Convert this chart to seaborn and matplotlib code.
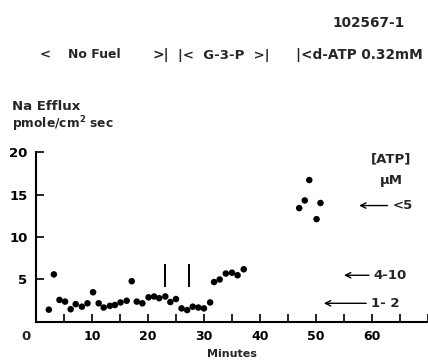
import numpy as np
import pandas as pd
import matplotlib
matplotlib.use("Agg")
import matplotlib.pyplot as plt
import seaborn as sns

# Na efflux vs time
minutes = [2.3, 3.2, 4.2, 5.2, 6.2, 7.1, 8.2, 9.2, 10.2, 11.2, 12.1, 13.2, 14.1,
           15.1, 16.2, 17.1, 18.0, 19.0, 20.1, 21.1, 22.0, 23.1, 24.0, 25.0,
           26.0, 27.0, 28.0, 29.0, 30.0, 31.1, 31.8, 32.8, 33.9, 35.0, 36.0,
           37.1, 47.0, 48.0, 48.8, 50.1, 50.8]
efflux = [1.45, 5.6, 2.6, 2.4, 1.5, 2.1, 1.8, 2.2, 3.5, 2.2, 1.7, 1.9, 2.0,
          2.3, 2.5, 4.8, 2.4, 2.2, 2.9, 3.0, 2.8, 3.0, 2.35, 2.7,
          1.6, 1.4, 1.8, 1.7, 1.6, 2.3, 4.7, 5.0, 5.7, 5.8, 5.5,
          6.2, 13.4, 14.3, 16.7, 12.1, 14.0]

# solution change marks
change_min = [23.1, 27.3]

# ATP levels marked by arrows on the right
atp_labels = ["<5", "4-10", "1- 2"]
atp_levels = [13.7, 5.5, 2.2]

x_ticks = [5, 10, 15, 20, 25, 30, 35, 40, 45, 50, 55, 60, 65, 70]
x_labels = ["", "10", "", "20", "", "30", "", "40", "", "50", "", "60", "", ""]
y_ticks = [5, 10, 15, 20]

df = pd.DataFrame({"minutes": minutes, "efflux": efflux})

sns.set_style("ticks")
plt.rcParams["font.family"] = ["DejaVu Sans"]
plt.rcParams["font.weight"] = "bold"

fig = plt.figure(figsize=(4.28, 3.64), dpi=100)
ax = fig.add_axes([0.084, 0.1154, 0.916, 0.467])

sns.scatterplot(data=df, x="minutes", y="efflux", color="black", s=22,
                edgecolor="none", ax=ax)

ax.vlines(change_min, 4.1, 6.8, color="black", lw=1.4)

ax.set_xlim(0, 70)
ax.set_ylim(0, 20)
ax.set_xticks(x_ticks)
ax.set_xticklabels(x_labels, fontsize=9, fontweight="bold")
ax.set_yticks(y_ticks)
ax.set_yticklabels([str(v) for v in y_ticks], fontsize=9.5, fontweight="bold")
ax.tick_params(direction="in", length=6, width=1.2, pad=6, colors="black")
for s in ["top", "right"]:
    ax.spines[s].set_visible(False)
for s in ["left", "bottom"]:
    ax.spines[s].set_linewidth(1.5)
    ax.spines[s].set_color("black")
ax.set_xlabel("Minutes", fontsize=8, fontweight="bold", labelpad=4)
ax.set_ylabel("")
ax.text(-1.8, -0.9, "0", ha="center", va="top", fontsize=9.5, fontweight="bold")

# arrows for ATP concentration
arrow_tips = [57.7, 55.0, 51.4]
text_x = [63.6, 60.3, 59.8]
for lab, lev, tip, tx in zip(atp_labels, atp_levels, arrow_tips, text_x):
    ax.annotate(lab, xy=(tip, lev), xytext=(tx, lev), ha="left", va="center",
                fontsize=9.5, fontweight="bold",
                arrowprops=dict(arrowstyle="->", lw=1.0, color="black",
                                shrinkA=1, shrinkB=0))
ax.text(63.4, 19.2, "[ATP]", ha="center", va="center", fontsize=9.5, fontweight="bold")
ax.text(63.4, 16.6, "\u03bcM", ha="center", va="center", fontsize=9.5, fontweight="bold")

# y label and header
fig.text(12 / 428, 1 - 107 / 364, "Na Efflux", ha="left", va="center", fontsize=9.5, fontweight="bold")
fig.text(12 / 428, 1 - 124 / 364, "pmole/cm$^{\\mathbf{2}}$ sec", ha="left", va="center",
         fontsize=8.8, fontweight="bold")
fig.text(405 / 428, 1 - 23 / 364, "102567-1", ha="right", va="center", fontsize=9.8, fontweight="bold")
hy = 1 - 55 / 364
fig.text(40 / 428, hy, "<", ha="left", va="center", fontsize=9.5, fontweight="bold")
fig.text(68 / 428, hy, "No Fuel", ha="left", va="center", fontsize=9, fontweight="bold")
fig.text(153 / 428, hy, ">|", ha="left", va="center", fontsize=10, fontweight="bold")
fig.text(178 / 428, hy, "|<  G-3-P  >|", ha="left", va="center", fontsize=9.5, fontweight="bold")
fig.text(296 / 428, hy, "|<d-ATP 0.32mM", ha="left", va="center", fontsize=9.8, fontweight="bold")

fig.savefig("out.png", dpi=100)
